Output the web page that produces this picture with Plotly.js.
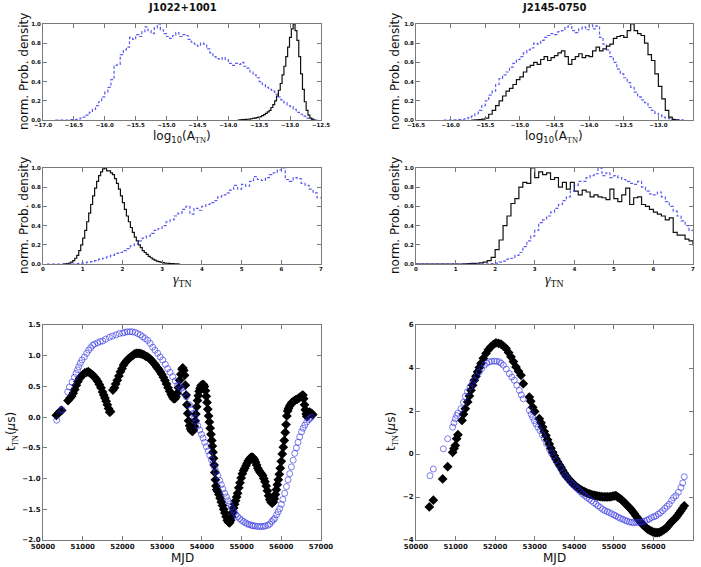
<!DOCTYPE html>
<html>
<head>
<meta charset="utf-8">
<script src="https://cdn.plot.ly/plotly-3.0.1.min.js"></script>
<style>
  html, body { margin: 0; padding: 0; background: #fff; }
  #chart { width: 701px; height: 567px; }
</style>
</head>
<body>
<div id="chart"></div>
<script>
// ---------------- Posterior histograms (normalised densities) ----------------
// Each histogram: first bin edge, bin width, bin heights.

// J1022+1001, log10(A_TN)
const j1022AmpBlueStart = -16.80, j1022AmpBlueWidth = 0.05;
const j1022AmpBlue = [0,0,0,0,0,0.003,0.005,0.01,0.02,0.03,0.05,0.08,0.11,0.15,0.19,0.24,0.29,0.34,0.42,0.57,
  0.58,0.68,0.73,0.76,0.86,0.84,0.89,0.87,0.92,0.97,0.93,0.90,0.96,1.00,0.94,0.90,0.87,0.85,0.88,0.91,
  0.87,0.89,0.88,0.84,0.81,0.79,0.77,0.80,0.79,0.74,0.70,0.66,0.64,0.63,0.65,0.63,0.59,0.57,0.59,0.58,
  0.60,0.56,0.54,0.50,0.47,0.44,0.40,0.37,0.34,0.32,0.30,0.27,0.24,0.21,0.18,0.15,0.14,0.11,0.08,0.06,
  0.04,0.02,0.01,0.005,0];
const j1022AmpBlackStart = -13.85, j1022AmpBlackWidth = 0.03;
const j1022AmpBlack = [0,0.002,0.003,0.005,0.006,0.008,0.01,0.013,0.016,0.02,0.025,0.03,0.035,0.045,0.055,0.07,
  0.085,0.10,0.13,0.16,0.20,0.25,0.31,0.38,0.47,0.56,0.66,0.76,0.86,0.95,1.00,0.93,0.83,0.66,0.48,0.32,
  0.19,0.10,0.05,0.02,0.01,0];

// J2145-0750, log10(A_TN)
const j2145AmpBlueStart = -16.10, j2145AmpBlueWidth = 0.05;
const j2145AmpBlue = [0,0,0,0.002,0.004,0.008,0.012,0.025,0.04,0.065,0.10,0.15,0.20,0.26,0.30,0.37,0.43,0.47,0.50,0.55,
  0.59,0.63,0.66,0.70,0.73,0.75,0.80,0.79,0.83,0.86,0.88,0.90,0.89,0.92,0.93,0.97,1.00,0.93,0.91,0.95,
  0.97,0.94,0.99,0.95,0.98,0.86,0.79,0.73,0.66,0.60,0.53,0.48,0.44,0.39,0.34,0.29,0.24,0.21,0.18,0.13,
  0.10,0.07,0.05,0.03,0.02,0.015,0.01,0.005,0.002,0];
const j2145AmpBlackStart = -15.70, j2145AmpBlackWidth = 0.05;
const j2145AmpBlack = [0,0.002,0.005,0.01,0.02,0.06,0.10,0.15,0.20,0.25,0.30,0.33,0.37,0.42,0.45,0.50,0.55,0.57,0.60,0.58,
  0.63,0.66,0.62,0.65,0.67,0.70,0.72,0.66,0.58,0.63,0.66,0.69,0.65,0.67,0.66,0.72,0.76,0.72,0.74,0.77,
  0.79,0.85,0.87,0.88,0.86,0.93,1.00,0.93,0.90,0.88,0.80,0.68,0.62,0.48,0.35,0.22,0.10,0.03,0.005,0];

// J1022+1001, gamma_TN
const j1022GamBlackStart = 0.50, j1022GamBlackWidth = 0.05;
const j1022GamBlack = [0,0.002,0.005,0.01,0.02,0.035,0.06,0.09,0.14,0.20,0.27,0.35,0.44,0.53,0.62,0.71,0.79,0.86,0.92,0.96,
  0.99,1.00,0.97,0.97,0.95,0.93,0.89,0.84,0.78,0.71,0.64,0.57,0.50,0.44,0.38,0.33,0.28,0.24,0.20,0.17,
  0.14,0.12,0.10,0.08,0.065,0.05,0.04,0.03,0.025,0.02,0.015,0.01,0.008,0.006,0.004,0.003,0.002,0.001,0];
const j1022GamBlueStart = 0.10, j1022GamBlueWidth = 0.10;
const j1022GamBlue = [0,0,0,0,0,0,0,0.003,0.008,0.012,0.02,0.025,0.035,0.05,0.06,0.075,0.09,0.11,0.12,0.14,
  0.16,0.19,0.21,0.24,0.27,0.29,0.32,0.35,0.37,0.40,0.44,0.46,0.50,0.53,0.57,0.60,0.52,0.58,0.56,0.60,
  0.62,0.64,0.66,0.70,0.72,0.74,0.77,0.82,0.78,0.83,0.81,0.86,0.91,0.88,0.87,0.90,0.93,0.95,0.98,1.00,
  0.88,0.86,0.90,0.89,0.84,0.82,0.78,0.74,0.69];

// J2145-0750, gamma_TN
const j2145GamBlackStart = 0.0, j2145GamBlackWidth = 0.10;
const j2145GamBlack = [0,0,0,0,0,0,0,0,0,0,0,0,0.002,0.004,0.006,0.008,0.012,0.02,0.035,0.07,
  0.15,0.25,0.40,0.50,0.63,0.68,0.80,0.85,0.84,1.00,0.90,0.96,0.93,0.95,0.88,0.90,0.80,0.85,0.78,0.85,
  0.76,0.72,0.77,0.75,0.70,0.72,0.70,0.69,0.67,0.78,0.68,0.65,0.72,0.79,0.62,0.69,0.70,0.62,0.60,0.57,
  0.54,0.52,0.50,0.46,0.48,0.33,0.30,0.30,0.26,0.24,0.20];
const j2145GamBlueStart = 0.0, j2145GamBlueWidth = 0.10;
const j2145GamBlue = [0,0,0,0,0,0,0,0,0,0,0,0,0,0,0,0,0,0,0.002,0.005,
  0.01,0.02,0.03,0.05,0.06,0.09,0.12,0.18,0.24,0.29,0.35,0.43,0.46,0.50,0.54,0.58,0.62,0.66,0.70,0.76,
  0.82,0.86,0.86,0.90,0.92,0.94,1.00,0.92,0.95,0.90,0.92,0.90,0.88,0.86,0.84,0.83,0.86,0.80,0.76,0.73,
  0.72,0.75,0.70,0.65,0.60,0.55,0.50,0.45,0.40,0.35];

// ---------------- Red-noise realisations t_TN (μs) vs MJD ----------------
const j1022BlackMjd = [50336,50400,50440,50470,50630,50680,50720,50760,50800,50840,50880,50920,50960,51000,51050,51100,51140,51180,51220,51260,
  51300,51340,51380,51420,51460,51500,51530,51560,51590,51620,51650,51680,51700,51760,51800,51830,51870,51910,51950,51990,
  52030,52070,52110,52150,52190,52230,52270,52310,52350,52390,52430,52470,52510,52550,52590,52630,52670,52710,52750,52790,
  52830,52870,52910,52950,52990,53030,53070,53110,53150,53190,53230,53260,53290,53320,53350,53380,53410,53440,53470,53500,
  53520,53545,53565,53585,53605,53625,53645,53665,53690,53715,53740,53765,53790,53810,53830,53850,53870,53890,53910,53930,
  53955,53980,54010,54040,54065,54090,54110,54130,54150,54170,54190,54210,54230,54250,54265,54280,54295,54310,54325,54340,
  54355,54375,54400,54430,54460,54490,54520,54550,54580,54610,54640,54670,54700,54725,54750,54775,54800,54825,54850,54875,
  54900,54930,54960,54990,55020,55050,55080,55110,55140,55170,55200,55230,55260,55290,55320,55350,55380,55410,55440,55470,
  55500,55530,55560,55590,55620,55650,55680,55710,55740,55770,55800,55825,55850,55875,55900,55925,55950,55975,56000,56025,
  56050,56075,56100,56120,56140,56160,56180,56210,56240,56270,56300,56330,56360,56400,56440,56480,56520,56545,56565,56585,
  56605,56625,56645,56665,56690,56715,56740,56765,56790];
const j1022BlackT = [0.03,0.07,0.10,0.11,0.27,0.31,0.34,0.39,0.45,0.52,0.58,0.63,0.66,0.69,0.72,0.73,0.74,0.72,0.70,0.68,
  0.65,0.62,0.58,0.53,0.48,0.41,0.36,0.31,0.26,0.20,0.14,0.08,0.09,0.44,0.48,0.54,0.60,0.67,0.74,0.79,
  0.85,0.89,0.92,0.95,0.97,0.99,1.01,1.03,1.04,1.04,1.04,1.03,1.02,1.01,0.99,0.98,0.96,0.94,0.91,0.88,
  0.85,0.81,0.78,0.74,0.70,0.65,0.60,0.54,0.48,0.42,0.37,0.33,0.30,0.30,0.33,0.39,0.48,0.60,0.70,0.78,
  0.80,0.76,0.68,0.52,0.36,0.20,0.06,-0.06,-0.14,-0.19,-0.22,-0.23,-0.21,-0.15,-0.06,0.05,0.17,0.27,0.35,0.42,
  0.47,0.51,0.53,0.53,0.50,0.43,0.34,0.24,0.13,0.02,-0.08,-0.18,-0.28,-0.38,-0.47,-0.57,-0.67,-0.78,-0.90,-1.02,
  -1.12,-1.18,-1.21,-1.26,-1.32,-1.38,-1.44,-1.50,-1.56,-1.62,-1.68,-1.71,-1.72,-1.68,-1.62,-1.55,-1.48,-1.42,-1.36,-1.30,
  -1.24,-1.15,-1.07,-0.99,-0.92,-0.87,-0.83,-0.79,-0.75,-0.71,-0.68,-0.66,-0.65,-0.66,-0.69,-0.73,-0.78,-0.83,-0.87,-0.90,
  -0.92,-0.95,-1.00,-1.05,-1.12,-1.20,-1.28,-1.34,-1.38,-1.40,-1.38,-1.33,-1.26,-1.18,-1.10,-1.02,-0.93,-0.83,-0.72,-0.60,
  -0.49,-0.38,-0.25,-0.12,0.02,0.10,0.14,0.18,0.21,0.24,0.25,0.27,0.28,0.29,0.31,0.33,0.35,0.36,0.30,0.20,
  0.12,0.05,0.01,0.03,0.07,0.08,0.06,0.06,0.04];

const j1022BlueMjd = [50345,50453,50480,50622,50664,50731,50790,50832,50870,50899,50940,50982,51041,51100,51150,51200,51251,51300,51377,51440,
  51503,51580,51671,51750,51838,51920,52007,52060,52120,52191,52250,52320,52385,52450,52510,52570,52636,52700,52762,52820,
  52888,52950,53014,53080,53140,53200,53266,53330,53392,53440,53485,53550,53610,53690,53730,53778,53820,53860,53900,53946,
  53990,54030,54070,54114,54160,54200,54240,54281,54320,54360,54400,54449,54490,54530,54575,54618,54660,54700,54740,54784,
  54820,54860,54900,54953,55000,55050,55100,55150,55200,55250,55288,55340,55400,55450,55499,55550,55600,55665,55710,55760,
  55800,55834,55880,55920,55960,56000,56040,56086,56130,56170,56212,56255,56300,56338,56380,56420,56464,56510,56550,56590,
  56640,56690,56716,56758];
const j1022BlueT = [-0.05,0.11,0.12,0.41,0.49,0.57,0.65,0.71,0.77,0.82,0.88,0.93,0.98,1.04,1.09,1.13,1.17,1.19,1.21,1.23,
  1.24,1.27,1.30,1.32,1.34,1.36,1.37,1.38,1.39,1.39,1.39,1.38,1.36,1.34,1.31,1.28,1.25,1.20,1.14,1.09,
  1.04,0.98,0.93,0.86,0.79,0.73,0.66,0.59,0.52,0.50,0.47,0.40,0.33,0.20,0.13,0.06,-0.01,-0.07,-0.14,-0.21,
  -0.28,-0.34,-0.41,-0.48,-0.55,-0.62,-0.69,-0.75,-0.82,-0.89,-0.95,-1.03,-1.10,-1.17,-1.24,-1.30,-1.36,-1.41,-1.46,-1.51,
  -1.55,-1.59,-1.62,-1.65,-1.68,-1.70,-1.72,-1.74,-1.75,-1.76,-1.77,-1.77,-1.78,-1.78,-1.78,-1.78,-1.77,-1.76,-1.74,-1.70,
  -1.67,-1.65,-1.59,-1.54,-1.49,-1.42,-1.34,-1.24,-1.13,-1.02,-0.92,-0.81,-0.70,-0.59,-0.50,-0.41,-0.32,-0.24,-0.18,-0.13,
  -0.08,-0.04,-0.02,0.0];

const j2145BlackMjd = [50337,50438,50674,50800,50927,50960,50993,51027,51060,51162,51200,51246,51306,51350,51390,51430,51474,51515,51558,51600,
  51643,51700,51769,51830,51895,51960,52021,52085,52148,52210,52274,52340,52400,52460,52527,52590,52653,52712,52864,52900,
  52948,53000,53116,53160,53200,53240,53284,53325,53368,53410,53453,53495,53537,53580,53620,53663,53705,53750,53790,53830,
  53875,53916,53960,54000,54042,54085,54125,54170,54210,54250,54295,54340,54379,54420,54465,54505,54547,54590,54630,54675,
  54716,54760,54800,54840,54884,54925,54970,55010,55052,55095,55137,55179,55220,55262,55305,55350,55390,55432,55475,55515,
  55558,55600,55640,55684,55725,55770,55811,55855,55895,55937,55980,56020,56063,56105,56150,56190,56230,56275,56316,56360,
  56400,56442,56485,56525,56569,56610,56655,56695,56740,56779];
const j2145BlackT = [-2.46,-2.15,-1.16,-0.59,0.08,0.25,0.39,0.71,0.90,1.56,1.85,2.11,2.42,2.70,2.96,3.20,3.43,3.62,3.82,4.02,
  4.21,4.45,4.68,4.85,4.99,5.10,5.17,5.15,5.11,5.02,4.91,4.72,4.52,4.30,4.05,3.85,3.66,3.27,2.65,2.45,
  2.18,1.98,1.64,1.45,1.25,1.05,0.86,0.66,0.47,0.27,0.08,-0.08,-0.23,-0.37,-0.50,-0.62,-0.76,-0.89,-1.01,-1.10,
  -1.20,-1.28,-1.36,-1.44,-1.51,-1.57,-1.62,-1.67,-1.71,-1.75,-1.79,-1.83,-1.86,-1.88,-1.91,-1.93,-1.94,-1.96,-1.97,-1.98,
  -1.99,-1.99,-1.99,-1.99,-1.99,-1.98,-1.96,-1.95,-1.94,-2.00,-2.05,-2.10,-2.18,-2.25,-2.33,-2.42,-2.49,-2.57,-2.67,-2.77,
  -2.88,-2.98,-3.09,-3.19,-3.27,-3.36,-3.43,-3.49,-3.54,-3.58,-3.62,-3.65,-3.66,-3.66,-3.64,-3.61,-3.56,-3.51,-3.46,-3.37,
  -3.28,-3.19,-3.11,-3.04,-2.96,-2.86,-2.75,-2.64,-2.52,-2.41];

const j2145BlueMjd = [50354,50438,50691,50800,50927,50960,50993,51027,51060,51137,51200,51246,51300,51365,51420,51474,51540,51600,51660,51727,
  51790,51853,51915,51979,52040,52106,52150,52207,52280,52358,52420,52485,52545,52611,52660,52712,52864,52910,52948,52990,
  53032,53080,53133,53190,53242,53300,53368,53420,53470,53537,53600,53650,53706,53760,53815,53874,53930,53985,54042,54100,
  54155,54210,54265,54320,54379,54435,54490,54547,54600,54660,54716,54770,54830,54884,54940,55000,55052,55110,55165,55221,
  55275,55330,55389,55445,55500,55558,55615,55670,55726,55780,55840,55895,55950,56010,56063,56120,56175,56232,56290,56345,
  56400,56460,56510,56569,56630,56695,56740,56779];
const j2145BlueT = [-1.01,-0.70,0.24,0.71,1.25,1.45,1.64,1.79,1.90,2.11,2.40,2.68,2.90,3.12,3.28,3.43,3.62,3.82,3.98,4.13,
  4.22,4.29,4.31,4.32,4.31,4.29,4.22,4.13,3.95,3.74,3.58,3.43,3.20,2.96,2.75,2.57,2.03,1.85,1.71,1.55,
  1.40,1.25,1.09,0.90,0.71,0.48,0.24,0.06,-0.08,-0.31,-0.50,-0.66,-0.85,-0.99,-1.11,-1.24,-1.36,-1.46,-1.56,-1.66,
  -1.76,-1.86,-1.94,-2.02,-2.10,-2.18,-2.26,-2.33,-2.41,-2.49,-2.57,-2.63,-2.68,-2.72,-2.78,-2.83,-2.88,-2.94,-2.99,-3.03,
  -3.08,-3.12,-3.16,-3.18,-3.19,-3.19,-3.18,-3.17,-3.16,-3.12,-3.07,-3.03,-2.96,-2.92,-2.88,-2.80,-2.73,-2.64,-2.53,-2.43,
  -2.33,-2.16,-2.03,-1.94,-1.78,-1.56,-1.35,-1.06];

// ---------------- Styling ----------------
const W = 701, H = 567;
const BLUE_LINE = 'rgba(50,50,235,0.8)';
const BLUE_MARK = 'rgba(40,40,225,0.6)';
const FRAME = '#7a7a7a';

// Build step-line coordinates from bin edges and heights.
function stepTrace(start, width, heights, xa, ya, color, dash) {
  const x = [], y = [];
  for (let i = 0; i < heights.length; i++) { x.push(start + i * width); y.push(heights[i]); }
  x.push(start + heights.length * width); y.push(heights[heights.length - 1]);
  return { type: 'scatter', mode: 'lines', x, y, xaxis: xa, yaxis: ya,
    line: { shape: 'hv', color, width: 1.2, dash }, hoverinfo: 'skip' };
}
function diamonds(x, y, xa, ya) {
  return { type: 'scatter', mode: 'markers', x, y, xaxis: xa, yaxis: ya,
    marker: { symbol: 'diamond', size: 7.5, color: '#000' } };
}
function circles(x, y, xa, ya) {
  return { type: 'scatter', mode: 'markers', x, y, xaxis: xa, yaxis: ya,
    marker: { symbol: 'circle-open', size: 6, color: BLUE_MARK, line: { width: 1, color: BLUE_MARK } } };
}

const data = [
  stepTrace(j1022AmpBlueStart, j1022AmpBlueWidth, j1022AmpBlue, 'x', 'y', BLUE_LINE, '3px,2px'),
  stepTrace(j1022AmpBlackStart, j1022AmpBlackWidth, j1022AmpBlack, 'x', 'y', '#111', 'solid'),
  stepTrace(j2145AmpBlueStart, j2145AmpBlueWidth, j2145AmpBlue, 'x2', 'y2', BLUE_LINE, '3px,2px'),
  stepTrace(j2145AmpBlackStart, j2145AmpBlackWidth, j2145AmpBlack, 'x2', 'y2', '#111', 'solid'),
  stepTrace(j1022GamBlackStart, j1022GamBlackWidth, j1022GamBlack, 'x3', 'y3', '#111', 'solid'),
  stepTrace(j1022GamBlueStart, j1022GamBlueWidth, j1022GamBlue, 'x3', 'y3', BLUE_LINE, '3px,2px'),
  stepTrace(j2145GamBlackStart, j2145GamBlackWidth, j2145GamBlack, 'x4', 'y4', '#111', 'solid'),
  stepTrace(j2145GamBlueStart, j2145GamBlueWidth, j2145GamBlue, 'x4', 'y4', BLUE_LINE, '3px,2px'),
  diamonds(j1022BlackMjd, j1022BlackT, 'x5', 'y5'),
  circles(j1022BlueMjd, j1022BlueT, 'x5', 'y5'),
  diamonds(j2145BlackMjd, j2145BlackT, 'x6', 'y6'),
  circles(j2145BlueMjd, j2145BlueT, 'x6', 'y6')
];

function ax(domain, anchor, range, dtick, fmt, fsize, standoff) {
  return {
    domain, anchor, range, dtick, tick0: range[0],
    tickformat: fmt, showgrid: false, zeroline: false,
    showline: true, mirror: 'ticks', linecolor: FRAME, linewidth: 1,
    ticks: 'inside', ticklen: 4, tickwidth: 1, tickcolor: FRAME,
    ticklabelstandoff: standoff || 0,
    tickfont: { family: 'DejaVu Sans', size: fsize, color: '#111', weight: 'bold' },
    fixedrange: true
  };
}
const px = v => v / W;
const py = v => 1 - v / H;
const colL = [px(43), px(321)], colR = [px(416), px(693)];
const rowT = [py(120), py(24)], rowM = [py(264), py(168)], rowB = [py(540), py(325)];

const layout = {
  width: W, height: H, showlegend: false,
  margin: { l: 0, r: 0, t: 0, b: 0 },
  paper_bgcolor: '#fff', plot_bgcolor: '#fff',
  xaxis:  ax(colL, 'y',  [-17, -12.5], 0.5, '.1f', 5.5, -1),
  yaxis:  ax(rowT, 'x',  [0, 1], 0.2, '.1f', 5.5),
  xaxis2: ax(colR, 'y2', [-16.5, -12.5], 0.5, '.1f', 5.5, -1),
  yaxis2: ax(rowT, 'x2', [0, 1], 0.2, '.1f', 5.5),
  xaxis3: ax(colL, 'y3', [0, 7], 1, 'd', 5.5, -1),
  yaxis3: ax(rowM, 'x3', [0, 1], 0.2, '.1f', 5.5),
  xaxis4: ax(colR, 'y4', [0, 7], 1, 'd', 5.5, -1),
  yaxis4: ax(rowM, 'x4', [0, 1], 0.2, '.1f', 5.5),
  xaxis5: ax(colL, 'y5', [50000, 57000], 1000, 'd', 7),
  yaxis5: ax(rowB, 'x5', [-2, 1.5], 0.5, '.1f', 7),
  xaxis6: ax(colR, 'y6', [50000, 57000], 1000, 'd', 7),
  yaxis6: ax(rowB, 'x6', [-4, 6], 2, 'd', 7),
  annotations: []
};

const sans = 'DejaVu Sans';
function note(text, x, y, size, angle, bold) {
  layout.annotations.push({
    text, x: px(x), y: py(y), xref: 'paper', yref: 'paper',
    xanchor: 'center', yanchor: 'middle', showarrow: false, textangle: angle || 0,
    font: { family: sans, size, color: '#111', weight: bold ? 'bold' : 'normal' }
  });
}
const serif = t => "<span style='font-family:Liberation Serif'>" + t + "</span>";

note('J1022+1001', 182, 7, 10, 0, true);
note('J2145-0750', 554, 7, 10, 0, true);
note('norm. Prob. density', 24, 72, 12, -90);
note('norm. Prob. density', 395, 72, 12, -90);
note('norm. Prob. density', 24, 216, 12, -90);
note('norm. Prob. density', 395, 216, 12, -90);
note('log<sub>10</sub>(A<sub>' + serif('TN') + '</sub>)', 182, 137, 12);
note('log<sub>10</sub>(A<sub>' + serif('TN') + '</sub>)', 554, 137, 12);
note(serif('<i>γ</i><sub>TN</sub>'), 182, 280, 14);
note(serif('<i>γ</i><sub>TN</sub>'), 554, 280, 14);
note('t<sub>' + serif('TN') + '</sub>(<i>μ</i>s)', 12, 432, 12, -90);
note('t<sub>' + serif('TN') + '</sub>(<i>μ</i>s)', 392, 432, 12, -90);
note('MJD', 182, 558, 12);
note('MJD', 554, 558, 12);

Plotly.newPlot('chart', data, layout, { staticPlot: true, displayModeBar: false });
</script>
</body>
</html>
